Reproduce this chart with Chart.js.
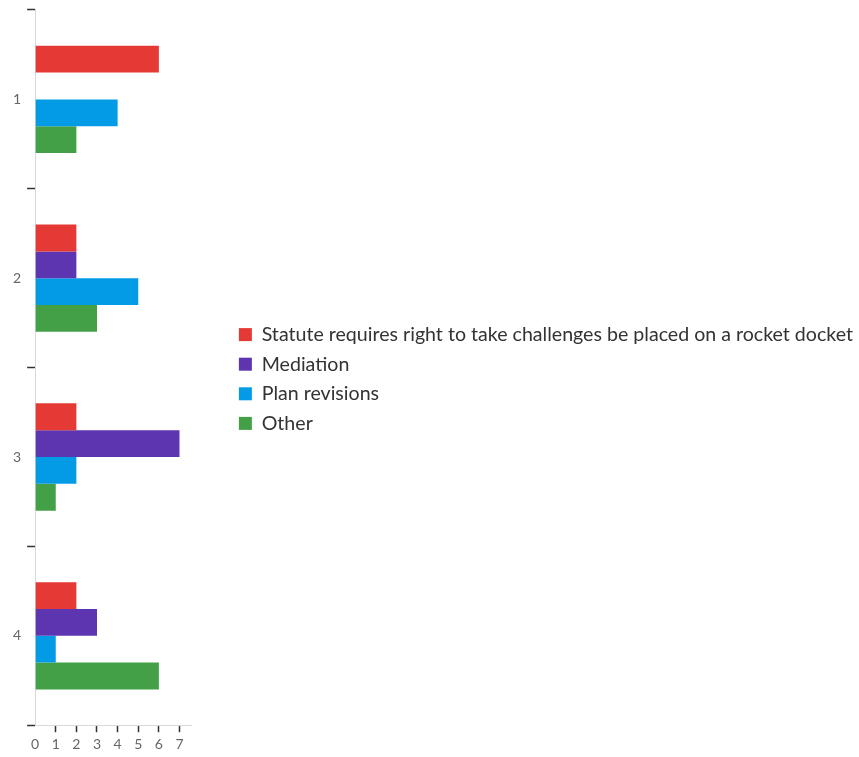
<!DOCTYPE html>
<html>
<head>
<meta charset="utf-8">
<script src="https://cdn.jsdelivr.net/npm/chart.js@4"></script>
<style>
  html, body { margin: 0; padding: 0; background: #ffffff; }
  #wrap { width: 859px; height: 757px; position: relative; }
</style>
</head>
<body>
<div id="wrap"><canvas id="c"></canvas></div>
<script>
// Response categories shown on the vertical axis
const categories = ['1', '2', '3', '4'];

// Counts per answer option
const statuteValues = [6, 2, 2, 2];
const mediationValues = [0, 2, 7, 3];
const planRevisionValues = [4, 5, 2, 1];
const otherValues = [2, 3, 1, 6];

const seriesNames = [
  'Statute requires right to take challenges be placed on a rocket docket',
  'Mediation',
  'Plan revisions',
  'Other'
];
const seriesColors = ['#e53935', '#5e35b1', '#039be5', '#43a047'];

// Count axis
const xTickValues = [0, 1, 2, 3, 4, 5, 6, 7];
const xMax = 7.6;

const seriesValues = [statuteValues, mediationValues, planRevisionValues, otherValues];

// Room reserved right of the legend during layout, and how far the legend slides back
const legendReserve = 33;
const legendShift = 37;

// Slide the legend to the right after layout, leaving a gap next to the plot
const legendGapPlugin = {
  id: 'legendGap',
  afterLayout(chart) {
    const lg = chart.legend;
    if (lg) {
      lg.left += legendShift;
      lg.right += legendShift;
    }
  }
};

new Chart(document.getElementById('c'), {
  type: 'bar',
  data: {
    labels: categories,
    datasets: seriesNames.map((name, i) => ({
      label: name,
      data: seriesValues[i],
      backgroundColor: seriesColors[i],
      borderWidth: 0,
      categoryPercentage: 0.6,
      barPercentage: 1.0
    }))
  },
  plugins: [legendGapPlugin],
  options: {
    indexAxis: 'y',
    responsive: true,
    maintainAspectRatio: false,
    animation: false,
    layout: { padding: { top: 1, left: 7, right: legendReserve, bottom: 0 } },
    plugins: {
      tooltip: { enabled: false },
      legend: {
        position: 'right',
        align: 'center',
        maxWidth: 700,
        labels: {
          boxWidth: 13,
          boxHeight: 13,
          padding: 10,
          color: '#333333',
          font: { family: 'Lato', size: 19.6 }
        }
      }
    },
    scales: {
      x: {
        min: 0,
        max: xMax,
        afterBuildTicks: (scale) => {
          scale.ticks = xTickValues.map(v => ({ value: v }));
        },
        border: { display: true, color: '#d9d9d9', width: 1 },
        grid: {
          drawOnChartArea: false,
          drawTicks: true,
          tickLength: 7,
          tickWidth: 1.5,
          color: (ctx) => ctx.index === 0 ? 'rgba(0,0,0,0)' : '#333333'
        },
        ticks: {
          color: '#666666',
          padding: 4,
          font: { family: 'Lato', size: 14 }
        }
      },
      y: {
        border: { display: true, color: '#d9d9d9', width: 1 },
        grid: {
          offset: true,
          drawOnChartArea: false,
          drawTicks: true,
          tickLength: 8,
          tickWidth: 1.5,
          color: '#333333'
        },
        ticks: {
          color: '#666666',
          padding: 6,
          font: { family: 'Lato', size: 14, lineHeight: 0.571 }
        }
      }
    }
  }
});
</script>
</body>
</html>
